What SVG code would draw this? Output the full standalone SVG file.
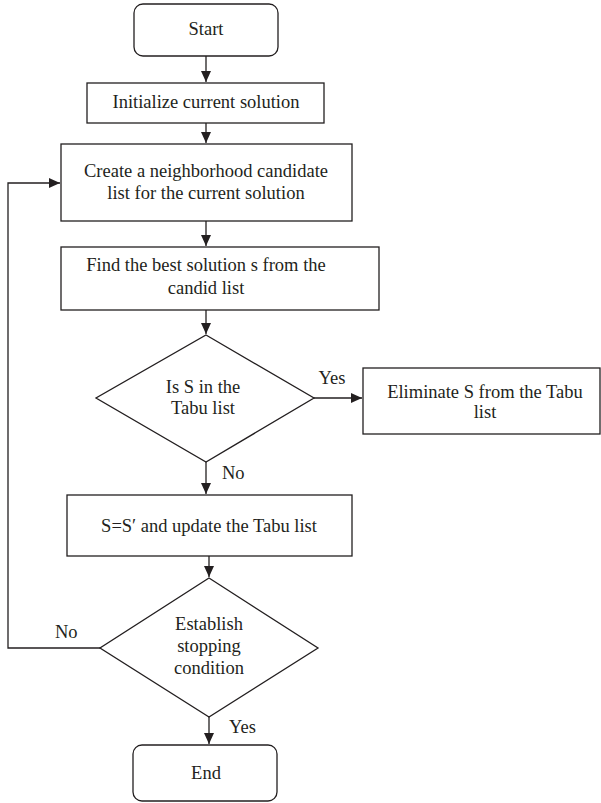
<svg xmlns="http://www.w3.org/2000/svg" width="601" height="803" viewBox="0 0 601 803">
<defs>
<marker id="ah" markerWidth="12" markerHeight="12" refX="11" refY="5" orient="auto" markerUnits="userSpaceOnUse">
<path d="M0,0 L11,5 L0,10 Z" fill="#231f20"/>
</marker>
<style>
.s{fill:#fff;stroke:#231f20;stroke-width:1.3}
.c{fill:none;stroke:#231f20;stroke-width:1.3}
text{font-family:"Liberation Serif","Times New Roman",serif;font-size:18.5px;fill:#231f20}
.m{text-anchor:middle}
</style>
</defs>
<rect width="601" height="803" fill="#fff"/>
<g id="connectors">
<line class="c" x1="206" y1="56" x2="206" y2="82" marker-end="url(#ah)"/>
<line class="c" x1="206" y1="123" x2="206" y2="143" marker-end="url(#ah)"/>
<line class="c" x1="206" y1="221" x2="206" y2="246" marker-end="url(#ah)"/>
<line class="c" x1="206" y1="310" x2="206" y2="334" marker-end="url(#ah)"/>
<line class="c" x1="314" y1="398" x2="362" y2="398" marker-end="url(#ah)"/>
<line class="c" x1="206" y1="462" x2="206" y2="494" marker-end="url(#ah)"/>
<line class="c" x1="209" y1="556" x2="209" y2="577" marker-end="url(#ah)"/>
<line class="c" x1="209" y1="717" x2="209" y2="744" marker-end="url(#ah)"/>
<polyline class="c" points="100,648 8,648 8,183 60,183" marker-end="url(#ah)"/>
<text x="332" y="384" class="m">Yes</text>
<text x="222" y="479">No</text>
<text x="55" y="638">No</text>
<text x="229" y="733">Yes</text>
</g>
<g id="start">
<rect class="s" x="134" y="4" width="144" height="52" rx="9"/>
<text x="206" y="35" class="m">Start</text>
</g>
<g id="init">
<rect class="s" x="87" y="83" width="237" height="40"/>
<text x="206" y="108" class="m">Initialize current solution</text>
</g>
<g id="create">
<rect class="s" x="61" y="144" width="291" height="77"/>
<text x="206" y="177" class="m">Create a neighborhood candidate</text>
<text x="206" y="199" class="m">list for the current solution</text>
</g>
<g id="find">
<rect class="s" x="61" y="247" width="318" height="63"/>
<text x="206" y="271" class="m">Find the best solution s from the</text>
<text x="206" y="294" class="m">candid list</text>
</g>
<g id="decision1">
<polygon class="s" points="206,335 314,398 206,462 96,398"/>
<text x="203" y="393" class="m">Is S in the</text>
<text x="203" y="414" class="m">Tabu list</text>
</g>
<g id="eliminate">
<rect class="s" x="363" y="368" width="237" height="66"/>
<text x="485" y="398" class="m">Eliminate S from the Tabu</text>
<text x="485" y="418" class="m">list</text>
</g>
<g id="update">
<rect class="s" x="67" y="495" width="285" height="61"/>
<text x="209" y="532" class="m">S=S′ and update the Tabu list</text>
</g>
<g id="decision2">
<polygon class="s" points="209,578 318,648 209,717 100,648"/>
<text x="209" y="630" class="m">Establish</text>
<text x="209" y="652" class="m">stopping</text>
<text x="209" y="674" class="m">condition</text>
</g>
<g id="end">
<rect class="s" x="133" y="745" width="144" height="56" rx="9"/>
<text x="206" y="779" class="m">End</text>
</g>
</svg>
